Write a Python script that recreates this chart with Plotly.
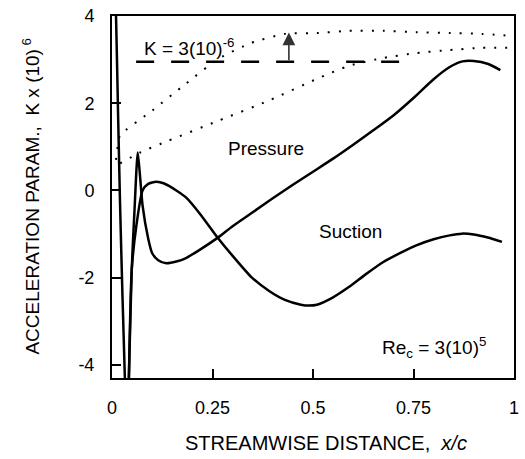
import plotly.graph_objects as go

# Pressure-surface acceleration parameter
pressure_x = [0.040, 0.042, 0.049, 0.056, 0.064, 0.070, 0.076, 0.090, 0.100, 0.115, 0.135, 0.160, 0.184, 0.220,
              0.265, 0.300, 0.350, 0.400, 0.450, 0.500, 0.550, 0.600, 0.650, 0.700, 0.750,
              0.800, 0.840, 0.872, 0.900, 0.936, 0.966]
pressure_y = [-5.0, -4.3, -1.83, -0.45, 0.87, 0.30, -0.34, -1.10, -1.44, -1.60, -1.67, -1.63, -1.55, -1.35,
              -1.07, -0.82, -0.50, -0.18, 0.13, 0.43, 0.73, 1.05, 1.38, 1.72, 2.12,
              2.55, 2.83, 2.96, 2.97, 2.90, 2.76]

# Suction-surface acceleration parameter
suction_x = [0.006, 0.010, 0.015, 0.020, 0.026, 0.032, 0.035, 0.040, 0.042, 0.049, 0.060, 0.076, 0.090,
             0.110, 0.130, 0.160, 0.184, 0.220, 0.260, 0.300, 0.346, 0.390, 0.430, 0.470, 0.490, 0.510,
             0.550, 0.590, 0.630, 0.675, 0.720, 0.757, 0.800, 0.840, 0.870, 0.900, 0.935, 0.970]
suction_y = [5.0, 4.0, 1.8, -0.3, -2.4, -4.3, -5.5, -5.5, -4.3, -1.83, -0.85, 0.0, 0.15,
             0.20, 0.16, 0.0, -0.16, -0.55, -1.05, -1.50, -1.98, -2.30, -2.51, -2.62, -2.64, -2.62,
             -2.45, -2.21, -1.93, -1.64, -1.42, -1.26, -1.12, -1.03, -0.99, -1.01, -1.08, -1.18]

# Dotted envelope curves
upper_dot_x = [0.010, 0.014, 0.020, 0.100, 0.184, 0.265, 0.346, 0.430, 0.510, 0.590, 0.676, 0.757, 0.840, 0.920, 0.998]
upper_dot_y = [0.70, 1.00, 1.26, 1.83, 2.45, 3.02, 3.38, 3.59, 3.61, 3.66, 3.66, 3.63, 3.61, 3.59, 3.54]
lower_dot_x = [0.020, 0.070, 0.140, 0.265, 0.390, 0.510, 0.590, 0.676, 0.757, 0.840, 0.920, 0.998]
lower_dot_y = [0.62, 0.87, 1.14, 1.60, 2.06, 2.56, 2.86, 3.04, 3.15, 3.22, 3.27, 3.27]

# Critical acceleration line K = 3(10)^-6
k_crit_x = [0.06, 0.74]
k_crit_y = [2.95, 2.95]

x_ticks = [0, 0.25, 0.5, 0.75, 1]
x_tick_text = ["0", "0.25", "0.5", "0.75", "1"]
y_ticks = [-4, -2, 0, 2, 4]
y_tick_text = ["-4", "-2", "0", "2", "4"]

FONT = "Liberation Sans, Arial, Helvetica, sans-serif"

fig = go.Figure()
for xs, ys in [(upper_dot_x, upper_dot_y), (lower_dot_x, lower_dot_y)]:
    fig.add_trace(go.Scatter(x=xs, y=ys, mode="lines",
                             line=dict(color="black", width=2, dash="2px,9px", shape="spline", smoothing=0.6),
                             showlegend=False, hoverinfo="skip"))
fig.add_trace(go.Scatter(x=k_crit_x, y=k_crit_y, mode="lines",
                         line=dict(color="black", width=2.5, dash="18px,17px"),
                         showlegend=False, hoverinfo="skip"))
for xs, ys in [(pressure_x, pressure_y), (suction_x, suction_y)]:
    fig.add_trace(go.Scatter(x=xs, y=ys, mode="lines",
                             line=dict(color="black", width=2.5, shape="spline", smoothing=0.6),
                             showlegend=False, hoverinfo="skip"))

annotations = [
    dict(x=0.44, y=3.62, ax=0.44, ay=2.95, xref="x", yref="y", axref="x", ayref="y",
         text="", showarrow=True, arrowhead=2, arrowsize=1.6, arrowwidth=1.6, arrowcolor="#333333"),
    dict(x=0.074, y=3.29, xref="x", yref="y", text="K = 3(10)<sup>-6</sup>",
         showarrow=False, xanchor="left", yanchor="middle", font=dict(family=FONT, size=19, color="black")),
    dict(x=0.383, y=0.96, xref="x", yref="y", text="Pressure",
         showarrow=False, font=dict(family=FONT, size=19, color="black")),
    dict(x=0.593, y=-0.93, xref="x", yref="y", text="Suction",
         showarrow=False, font=dict(family=FONT, size=19, color="black")),
    dict(x=0.935, y=-3.6, xref="x", yref="y", text="Re<sub>c</sub> = 3(10)<sup>5</sup>",
         showarrow=False, xanchor="right", yanchor="middle", font=dict(family=FONT, size=19, color="black")),
    dict(x=-0.2015, y=0.504, xref="paper", yref="paper", textangle=-90,
         text="ACCELERATION PARAM.,  K x (10)<sup> 6</sup>", showarrow=False,
         xanchor="center", yanchor="middle", font=dict(family=FONT, size=19, color="black")),
    dict(x=0.533, y=-0.179, xref="paper", yref="paper",
         text="STREAMWISE DISTANCE,  <i>x/c</i>", showarrow=False,
         xanchor="center", yanchor="middle", font=dict(family=FONT, size=20, color="black")),
]

fig.update_layout(
    width=525, height=459,
    margin=dict(l=112, r=6, t=15, b=81),
    paper_bgcolor="white", plot_bgcolor="white",
    annotations=annotations,
    xaxis=dict(range=[0, 1], tickvals=x_ticks, ticktext=x_tick_text, ticks="inside", ticklen=9,
               tickwidth=1.5, tickcolor="black", showgrid=False, zeroline=False,
               showline=True, linecolor="black", linewidth=2, mirror=True,
               tickfont=dict(family=FONT, size=18, color="black"), ticklabelstandoff=12),
    yaxis=dict(range=[-4.3, 4], tickvals=y_ticks, ticktext=y_tick_text, ticks="inside", ticklen=9,
               tickwidth=1.5, tickcolor="black", showgrid=False, zeroline=False,
               showline=True, linecolor="black", linewidth=2, mirror=True,
               tickfont=dict(family=FONT, size=18, color="black"), ticklabelstandoff=12),
)

fig.write_html("out.html")
